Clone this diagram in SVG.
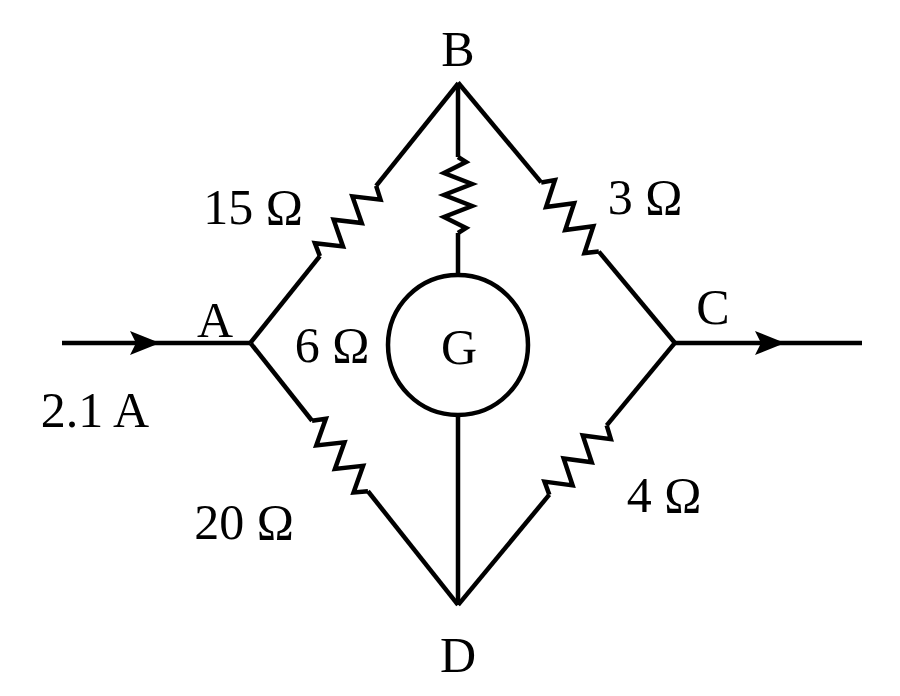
<svg xmlns="http://www.w3.org/2000/svg" width="900" height="696" viewBox="0 0 900 696">
<style>
.w{stroke:#000;stroke-width:4.5;fill:none;stroke-linejoin:miter}
.t{font-family:"Liberation Serif",serif;font-size:50px;fill:#000;text-anchor:middle}
</style>
<defs>
<path id="z" d="M-45,0 L-38,-12 L-23,12 L-8,-12 L7,12 L22,-12 L37,12 L45,0"/>
</defs>
<rect width="900" height="696" fill="#fff"/>
<g id="connectors" class="w">
<line x1="62" y1="343" x2="250" y2="343"/>
<line x1="675" y1="343" x2="862" y2="343"/>
<polygon points="160,343 130,331 136,343 130,355" fill="#000" stroke="none"/>
<polygon points="785,343 755,331 761,343 755,355" fill="#000" stroke="none"/>
<g id="R15" transform="translate(348,221) rotate(-51.3)"><line x1="-156.5" y1="0" x2="-45" y2="0"/><use href="#z"/><line x1="45" y1="0" x2="176.5" y2="0"/></g>
<g id="R3" transform="translate(570,217) rotate(50.2)"><line x1="-175" y1="0" x2="-45" y2="0"/><use href="#z"/><line x1="45" y1="0" x2="164" y2="0"/></g>
<g id="R20" transform="translate(340,456) rotate(51.6)"><line x1="-144" y1="0" x2="-45" y2="0"/><use href="#z"/><line x1="45" y1="0" x2="190" y2="0"/></g>
<g id="R4" transform="translate(578,460) rotate(-50.4)"><line x1="-188" y1="0" x2="-45" y2="0"/><use href="#z"/><line x1="45" y1="0" x2="152" y2="0"/></g>
<g id="R6" transform="translate(458,195) rotate(90)"><line x1="-112" y1="0" x2="-38" y2="0"/><path d="M-38,0 L-33,-8 L-22,14 L-11,-14 L0,14 L11,-14 L22,14 L33,-8 L38,0"/><line x1="38" y1="0" x2="80" y2="0"/></g>
<line x1="458" y1="415" x2="458" y2="605"/>
</g>
<g id="G"><circle cx="458" cy="345" r="70" class="w"/><text class="t" x="459" y="364" font-size="56">G</text></g>
<g id="labels">
<text class="t" x="458" y="66">B</text>
<text class="t" x="215" y="337">A</text>
<text class="t" x="713" y="324">C</text>
<text class="t" x="458" y="672">D</text>
<text class="t" x="253" y="224">15 Ω</text>
<text class="t" x="645" y="214">3 Ω</text>
<text class="t" x="332" y="362">6 Ω</text>
<text class="t" x="95" y="427">2.1 A</text>
<text class="t" x="244" y="539">20 Ω</text>
<text class="t" x="664" y="512">4 Ω</text>
</g>
</svg>
